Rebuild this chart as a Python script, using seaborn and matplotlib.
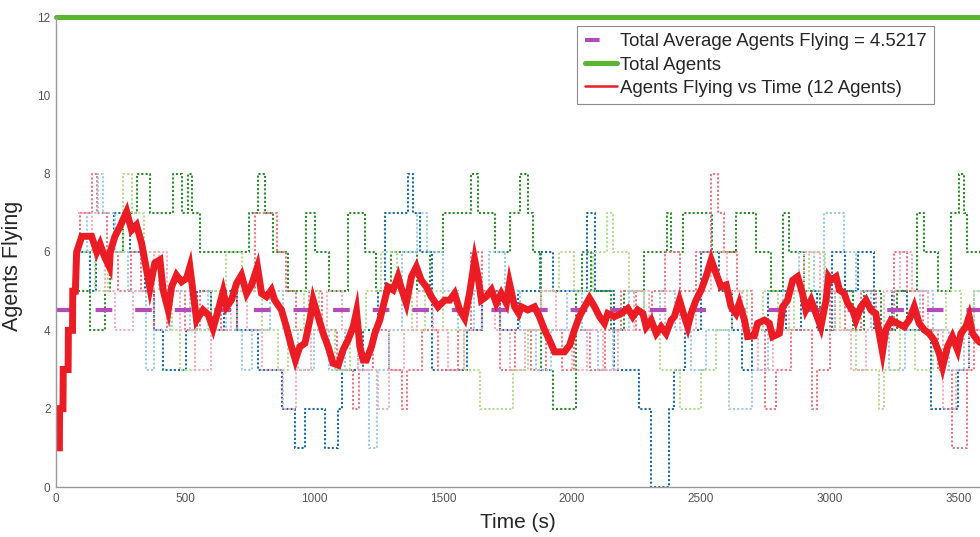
import matplotlib
matplotlib.use("Agg")
import matplotlib.pyplot as plt
from matplotlib.lines import Line2D
import seaborn as sns
import pandas as pd

# ---------------- data ----------------
avg_agents = 4.5217
total_agents = 12
x_end = 3600

# per-run agents flying, step change points (time s, agents)
blue_steps = [(80,6),(130,5),(155,6),(225,7),(285,6),(345,5),(380,4),(415,3),(505,4),(545,5),
              (600,4),(650,5),(700,4),(785,3),(875,2),(925,1),(965,2),(1042,1),(1092,2),(1110,3),
              (1190,4),(1250,5),(1274,7),(1364,8),(1383,7),(1410,6),(1456,3),(1592,4),(1650,5),(1720,4),
              (1790,5),(1875,6),(1926,5),(2060,7),(2090,5),(2165,3),(2262,2),(2307,0),(2378,2),(2395,3),
              (2440,4),(2500,6),(2570,5),(2620,4),(2660,3),(2700,4),(2760,5),(2830,4),(2890,5),(2950,4),
              (3010,6),(3060,5),(3110,6),(3170,4),(3240,5),(3300,4),(3393,2),(3495,3),(3540,4)]
green_steps = [(85,5),(130,4),(190,5),(210,6),(260,7),(313,8),(364,7),(453,8),(488,7),(512,8),
               (527,7),(560,6),(750,7),(782,8),(810,7),(840,6),(900,5),(971,7),(1003,6),(1060,5),
               (1132,7),(1197,6),(1240,5),(1300,6),(1400,5),(1450,6),(1500,7),(1610,8),(1636,7),(1700,6),
               (1760,7),(1797,8),(1829,7),(1850,6),(1880,3),(1926,2),(2017,5),(2040,6),(2075,5),(2150,4),
               (2200,5),(2280,6),(2367,7),(2385,6),(2429,7),(2545,6),(2637,7),(2715,6),(2770,5),(2817,7),
               (2840,6),(2900,5),(2960,4),(3020,5),(3088,4),(3133,5),(3200,4),(3260,5),(3339,7),(3366,6),
               (3420,5),(3470,7),(3500,8),(3520,7),(3533,6)]
red_steps = [(80,6),(93,7),(139,8),(158,7),(197,6),(240,5),(290,6),(330,5),(380,4),(430,5),
             (500,4),(560,5),(640,4),(700,5),(771,7),(856,6),(890,5),(930,4),(980,5),(1030,4),
             (1090,3),(1150,2),(1175,3),(1230,4),(1290,3),(1340,2),(1360,3),(1420,4),(1480,3),(1560,4),
             (1610,6),(1650,5),(1720,3),(1780,4),(1840,3),(1900,4),(1960,3),(2010,4),(2070,3),(2130,4),
             (2190,5),(2250,4),(2310,5),(2360,6),(2420,5),(2480,6),(2540,8),(2565,7),(2590,6),(2640,5),
             (2700,4),(2750,2),(2790,3),(2850,4),(2930,2),(2950,3),(3000,5),(3060,4),(3120,5),(3180,4),
             (3250,6),(3300,5),(3360,4),(3420,3),(3473,1),(3533,3),(3560,4)]
lightblue_steps = [(75,6),(120,7),(163,8),(182,7),(230,6),(280,5),(350,3),(380,4),(440,5),(520,4),
                   (590,5),(660,4),(720,3),(760,4),(830,5),(880,4),(940,3),(1000,4),(1060,3),(1120,4),
                   (1170,3),(1215,1),(1243,3),(1290,4),(1340,6),(1400,7),(1440,6),(1500,5),(1560,4),(1620,5),
                   (1680,6),(1740,5),(1800,4),(1860,3),(1920,4),(1980,5),(2040,4),(2100,3),(2160,4),(2220,5),
                   (2280,4),(2340,5),(2400,4),(2460,3),(2520,4),(2610,2),(2700,3),(2760,4),(2820,5),(2880,6),
                   (2940,5),(2978,7),(3056,6),(3100,5),(3160,4),(3230,3),(3290,4),(3350,5),(3400,4),(3460,3),
                   (3520,4),(3560,5)]
lightgreen_steps = [(90,6),(150,5),(200,6),(260,8),(294,7),(340,6),(400,5),(450,4),(480,3),(540,4),
                    (600,5),(660,6),(720,5),(800,4),(860,3),(900,4),(960,5),(1020,4),(1080,3),(1140,4),
                    (1200,5),(1260,6),(1320,5),(1380,4),(1430,5),(1500,4),(1580,3),(1642,2),(1770,3),(1830,4),
                    (1880,5),(1950,6),(2010,5),(2080,6),(2135,7),(2158,6),(2220,5),(2280,4),(2340,3),(2420,2),
                    (2500,3),(2560,4),(2620,5),(2680,4),(2740,5),(2800,4),(2860,5),(2920,6),(2980,5),(3040,4),
                    (3100,3),(3190,2),(3210,3),(3270,4),(3330,3),(3400,4),(3450,5),(3510,4),(3560,5)]
pink_steps = [(85,7),(140,6),(190,5),(230,4),(300,5),(380,6),(430,5),(480,4),(540,3),(600,4),
              (680,5),(740,4),(800,3),(880,2),(930,3),(990,4),(1050,5),(1110,4),(1170,3),(1250,2),
              (1290,3),(1350,4),(1400,5),(1460,4),(1520,3),(1580,4),(1650,5),(1700,4),(1760,3),(1820,4),
              (1880,5),(1940,4),(2000,3),(2060,4),(2120,3),(2180,4),(2240,5),(2300,4),(2360,5),(2420,4),
              (2480,5),(2540,6),(2600,5),(2660,4),(2720,3),(2780,4),(2840,5),(2900,6),(2960,5),(3020,4),
              (3080,3),(3140,4),(3210,5),(3270,6),(3320,5),(3380,4),(3440,2),(3490,3),(3540,4)]

# average agents flying vs time (thick red line)
avg_curve = [(3,1.0),(13,1.0),(14,2.0),(27,2.0),(28,3.0),(47,3.0),(48,4.0),(64,4.0),(65,5.0),(75,5.0),
             (80,6.0),(100,6.4),(138,6.4),(158,6.0),(171,6.2),(190,5.85),(207,5.62),(210,6.0),(228,6.39),(248,6.65),
             (274,7.03),(293,6.56),(312,6.69),(332,6.22),(351,5.54),(364,5.08),(383,5.72),(403,5.8),(415,5.03),(435,4.52),
             (448,5.11),(467,5.41),(487,5.24),(506,5.33),(519,5.62),(545,4.26),(570,4.52),(590,4.4),(609,4.05),(629,4.52),
             (648,4.99),(661,4.6),(680,4.77),(700,5.2),(719,5.41),(739,4.94),(758,5.16),(781,5.62),(797,4.94),(816,4.86),
             (835,5.03),(848,4.77),(874,4.52),(893,4.09),(913,3.58),(928,3.24),(945,3.58),(965,3.67),(984,4.26),(997,4.77),
             (1016,4.35),(1036,3.92),(1055,3.58),(1074,3.16),(1094,3.11),(1113,3.5),(1132,3.75),(1152,4.09),(1165,4.48),(1178,3.58),
             (1191,3.24),(1203,3.24),(1223,3.58),(1236,3.92),(1255,4.26),(1274,4.77),(1287,5.11),(1307,5.03),(1326,5.37),(1339,5.07),
             (1358,4.69),(1378,5.37),(1397,5.62),(1416,5.28),(1436,5.11),(1455,4.86),(1481,4.6),(1507,4.77),(1526,4.77),(1545,4.94),
             (1565,4.52),(1584,4.31),(1603,4.94),(1623,5.8),(1636,5.37),(1649,4.77),(1668,4.86),(1688,5.03),(1707,4.69),(1726,4.94),
             (1746,4.69),(1758,5.2),(1778,4.6),(1794,4.43),(1804,4.6),(1829,4.52),(1855,4.6),(1874,4.35),(1894,4.01),(1913,3.75),
             (1933,3.45),(1971,3.45),(1991,3.62),(2010,4.01),(2029,4.35),(2049,4.6),(2068,4.82),(2088,4.6),(2107,4.35),(2126,4.18),
             (2139,4.43),(2165,4.35),(2191,4.43),(2217,4.56),(2236,4.35),(2255,4.52),(2275,4.43),(2288,4.09),(2307,4.26),(2327,3.92),
             (2346,4.09),(2365,3.92),(2385,4.26),(2397,4.35),(2417,4.77),(2436,4.35),(2449,4.09),(2462,4.43),(2481,4.77),(2501,5.03),
             (2520,5.37),(2540,5.8),(2559,5.45),(2578,5.11),(2598,5.16),(2617,4.6),(2636,4.43),(2649,4.69),(2669,4.26),(2681,3.84),
             (2707,3.86),(2720,4.18),(2746,4.26),(2765,4.18),(2778,3.84),(2804,3.92),(2817,4.6),(2836,4.77),(2856,5.28),(2875,5.37),
             (2894,4.94),(2907,4.52),(2927,4.77),(2946,4.43),(2965,4.09),(2985,4.77),(2995,5.37),(3005,5.28),(3024,5.37),(3037,5.03),
             (3056,4.94),(3069,4.69),(3088,4.52),(3101,4.26),(3120,4.6),(3140,4.77),(3159,4.52),(3178,4.43),(3191,3.92),(3204,3.45),
             (3217,4.01),(3237,4.26),(3262,4.18),(3288,4.09),(3307,4.26),(3327,4.6),(3346,4.18),(3366,4.01),(3385,3.92),(3404,3.75),
             (3424,3.41),(3437,3.07),(3456,3.58),(3475,3.84),(3495,3.5),(3508,3.92),(3527,4.09),(3540,4.35),(3553,3.92),(3572,3.75),
             (3600,3.6)]

x_ticks = [0, 500, 1000, 1500, 2000, 2500, 3000, 3500]
y_ticks = [0, 2, 4, 6, 8, 10, 12]
legend_labels = ["Total Average Agents Flying = 4.5217", "Total Agents",
                 "Agents Flying vs Time (12 Agents)"]

# ---------------- style ----------------
sns.set_theme(style="white")
plt.rcParams["font.family"] = ["Liberation Sans", "DejaVu Sans"]

fig = plt.figure(figsize=(9.8, 5.37), dpi=100)
ax = fig.add_axes([56/980, 1-487/537, 1-56/980, (487-17)/537])

run_series = [
    (blue_steps, "#1b6aa6", 1.0),
    (green_steps, "#2b8a2b", 1.0),
    (red_steps, "#e8707c", 0.95),
    (lightblue_steps, "#98c8e8", 0.95),
    (lightgreen_steps, "#b2d98f", 0.95),
    (pink_steps, "#f4aab8", 0.95),
]
for steps, col, a in run_series:
    t = [p[0] for p in steps] + [x_end]
    v = [p[1] for p in steps] + [steps[-1][1]]
    df = pd.DataFrame({"t": t, "v": v})
    sns.lineplot(data=df, x="t", y="v", ax=ax, color=col, alpha=a, lw=1.5,
                 linestyle=(0, (1, 1.0)), drawstyle="steps-post",
                 estimator=None, sort=False, legend=False)

# total average (purple dashed)
sns.lineplot(x=[0, x_end], y=[avg_agents, avg_agents], ax=ax, color="#b24cb6",
             lw=3.0, linestyle=(0, (4, 5.5)), estimator=None, legend=False)
# total agents (green)
sns.lineplot(x=[0, x_end], y=[total_agents, total_agents], ax=ax, color="#5cb531",
             lw=3.6, estimator=None, legend=False, clip_on=False)
# average agents flying curve
dfa = pd.DataFrame({"t": [p[0] for p in avg_curve], "v": [p[1] for p in avg_curve]})
sns.lineplot(data=dfa, x="t", y="v", ax=ax, color="#ec1c24", lw=5.0,
             estimator=None, sort=False, legend=False, solid_joinstyle="miter")

ax.set_xlim(0, 3582)
ax.set_ylim(0, 12)
ax.set_xticks(x_ticks)
ax.set_yticks(y_ticks)
ax.tick_params(direction="in", length=5, width=0.8, colors="#8a8a8a",
               labelcolor="#555555", labelsize=8.5, pad=4)
for s in ["top", "right"]:
    ax.spines[s].set_visible(False)
for s in ["left", "bottom"]:
    ax.spines[s].set_color("#9a9a9a")
    ax.spines[s].set_linewidth(1.0)

ax.set_xlabel("Time (s)", fontsize=15, color="#262626", labelpad=6)
ax.set_ylabel("Agents Flying", fontsize=15.5, color="#262626", labelpad=6)
ax.yaxis.set_label_coords(-0.036, 0.47)

handles = [
    Line2D([0], [0], color="#b24cb6", lw=3.0, linestyle=(0, (3.5, 20))),
    Line2D([0], [0], color="#5cb531", lw=3.6),
    Line2D([0], [0], color="#ec1c24", lw=1.8),
]
leg = fig.legend(handles, legend_labels, loc="upper right",
                 bbox_to_anchor=(934/980, 1-26/537), fontsize=13.4,
                 frameon=True, fancybox=False, framealpha=1, edgecolor="#8c8c8c",
                 handlelength=1.75, handletextpad=0.15, labelspacing=0.33,
                 borderpad=0.4, borderaxespad=0)
leg.get_frame().set_linewidth(0.8)

fig.savefig("out.png", dpi=100)
